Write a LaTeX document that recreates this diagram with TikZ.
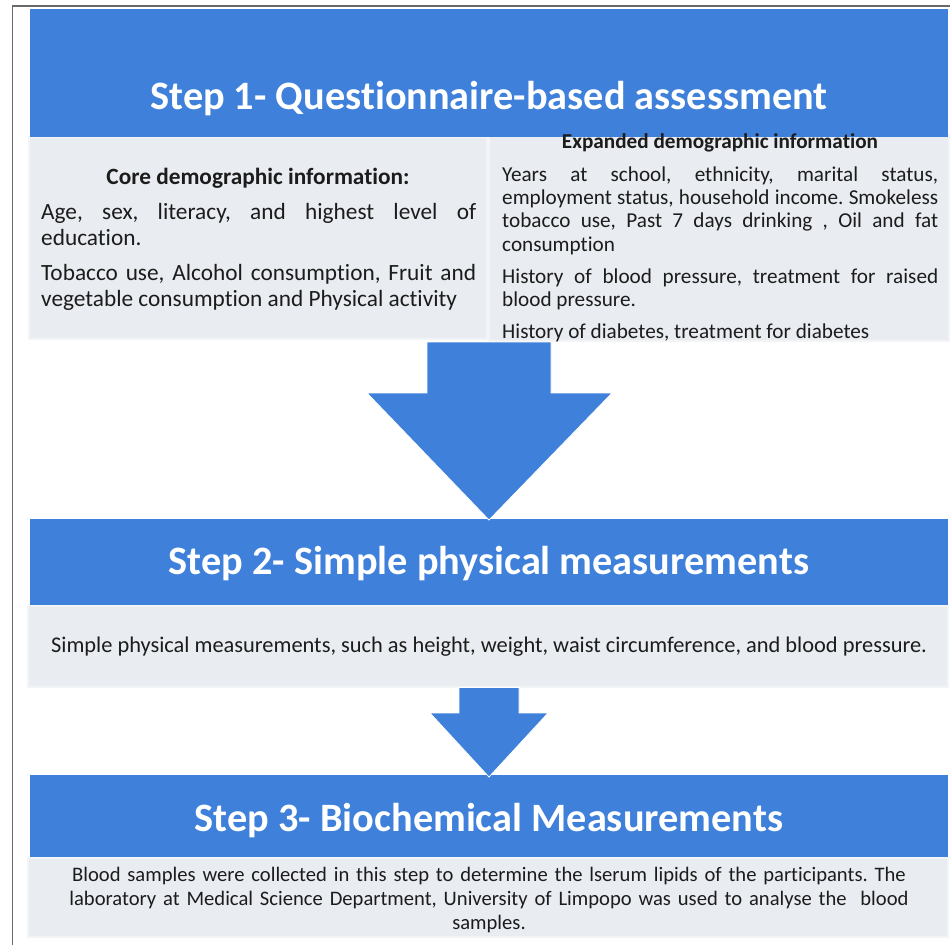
\documentclass[tikz,border=0pt]{standalone}
\usepackage{fontspec}
\setmainfont{Carlito}[Ligatures={NoCommon,NoContextual}]
\usetikzlibrary{calc}
\definecolor{stepblue}{RGB}{62,128,218}
\definecolor{panelgrey}{RGB}{233,236,240}
\definecolor{panelrim}{RGB}{243,244,246}
\definecolor{framegrey}{RGB}{105,105,105}
\definecolor{bodyink}{RGB}{28,28,28}

\begin{document}
\frenchspacing
\begin{tikzpicture}[x=1pt,y=-1pt,
  header/.style={fill=stepblue, inner sep=0pt, outer sep=0pt, anchor=north west},
  panel/.style={fill=panelgrey, draw=panelrim, line width=2.5pt, inner sep=0pt, outer sep=0pt, anchor=north west},
  steptitle/.style={text=white, font=\bfseries\fontsize{40.3}{48}\selectfont, inner sep=0pt, anchor=base},
  subhead/.style={text=bodyink, font=\bfseries\fontsize{23.3}{28}\selectfont, inner sep=0pt, anchor=base},
  bodyL/.style={text=bodyink, font=\fontsize{23.3}{26}\selectfont, inner sep=0pt, anchor=base west, text width=435pt, align=justify},
  bodyR/.style={text=bodyink, font=\fontsize{21.2}{23.4}\selectfont, inner sep=0pt, anchor=base west, text width=436pt, align=justify},
  blockarrow/.style={fill=stepblue, draw=white, line width=0.8pt, line join=miter},
]
\useasboundingbox (0,0) rectangle (950,945);

% outer frame (left and top edges)
\draw[framegrey, line width=1.3pt] (12.5,945) -- (12.5,6) -- (950,6);

% ---------- Step 1 ----------
\node[panel, minimum width=458pt, minimum height=202pt] (core) at (29,137) {};
\node[panel, minimum width=460pt, minimum height=206pt] (expanded) at (489,135) {};
\node[header, minimum width=918pt, minimum height=128pt] (h1) at (30,9) {};
\node[steptitle] (t1) at (489,109) {Step 1- Questionnaire-based assessment};

\node[subhead] (coreh) at (258,184) {Core demographic information:};
\node[bodyL] (core1) at (41,219) {Age, sex, literacy, and highest level of\linebreak education.};
\node[bodyL] (core2) at (41,280) {Tobacco use, Alcohol consumption, Fruit and\linebreak vegetable consumption and Physical activity};

\node[subhead, font=\bfseries\fontsize{21.2}{25}\selectfont] (exph) at (720,148) {Expanded demographic information};
\node[bodyR] (exp1) at (502,181) {Years at school, ethnicity, marital status,\linebreak employment status, household income. Smokeless\linebreak tobacco use, Past 7 days drinking , Oil and fat\linebreak consumption};
\node[bodyR] (exp2) at (502,283) {History of blood pressure, treatment for raised\linebreak blood pressure.};
\node[bodyR] (exp3) at (502,338) {History of diabetes, treatment for diabetes};

% ---------- Step 2 ----------
\node[header, minimum width=918pt, minimum height=87pt] (h2) at (30,519) {};
\node[panel, minimum width=920pt, minimum height=81pt] (p2) at (28,606) {};
\node[steptitle] (t2) at (489,574) {Step 2- Simple physical measurements};
\node[text=bodyink, font=\fontsize{22.4}{26}\selectfont, inner sep=0pt, anchor=base] (b2) at (489,652)
  {Simple physical measurements, such as height, weight, waist circumference, and blood pressure.};

% ---------- Step 3 ----------
\node[header, minimum width=918pt, minimum height=83pt] (h3) at (30,775) {};
\node[panel, minimum width=920pt, minimum height=79pt] (p3) at (28,858) {};
\node[steptitle] (t3) at (489,831) {Step 3- Biochemical Measurements};
\node[text=bodyink, font=\fontsize{20.6}{24}\selectfont, inner sep=0pt, anchor=base, text width=900pt, align=center] (b3) at (489,881)
  {Blood samples were collected in this step to determine the lserum lipids of the participants. The\\
   laboratory at Medical Science Department, University of Limpopo was used to analyse the\ \ blood\\
   samples.};

% ---------- block arrows between the steps ----------
\draw[blockarrow] (427,342) -- (551,342) -- (551,393) -- (612,393) -- (489,520)
  -- (367,393) -- (427,393) -- cycle;
\draw[blockarrow] (459,687.5) -- (519,687.5) -- (519,713) -- (548,713) -- (489,777)
  -- (430,713) -- (459,713) -- cycle;
\end{tikzpicture}
\end{document}
